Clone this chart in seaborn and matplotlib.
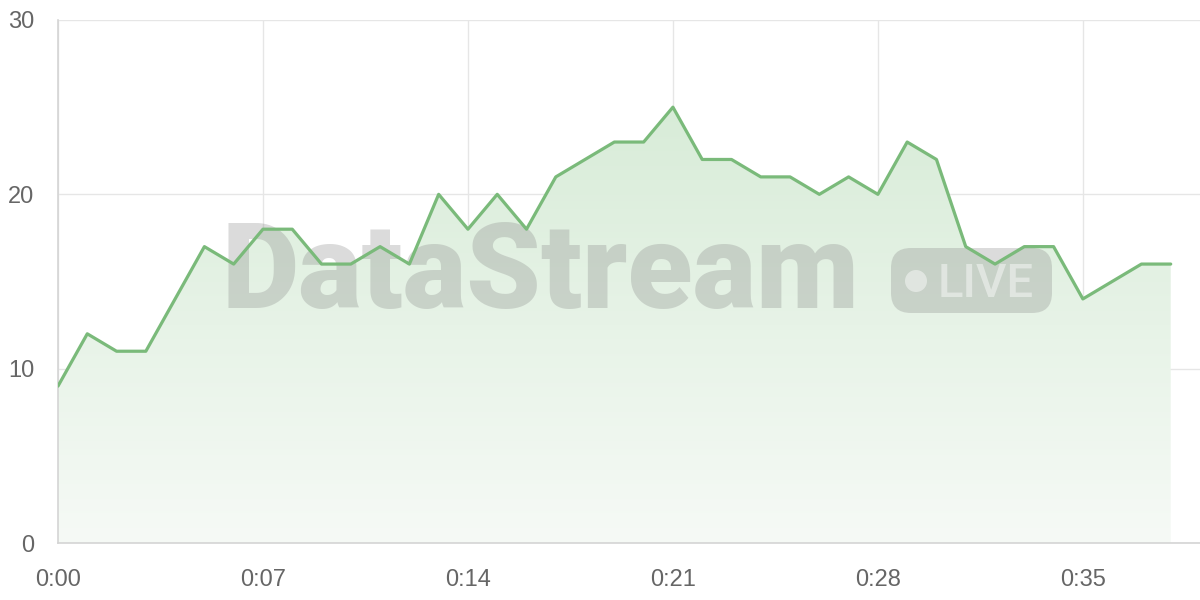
import numpy as np
import pandas as pd
import seaborn as sns
import matplotlib.pyplot as plt
from matplotlib.patches import FancyBboxPatch, Circle
from matplotlib.transforms import IdentityTransform
from matplotlib.colors import LinearSegmentedColormap

# ── Data ──────────────────────────────────────────────────────────────────────
seconds = list(range(39))
values = [9, 12, 11, 11, 14, 17, 16, 18, 18, 16, 16, 17, 16, 20, 18, 20, 18,
          21, 22, 23, 23, 25, 22, 22, 21, 21, 20, 21, 20, 23, 22, 17, 16, 17,
          17, 14, 15, 16, 16]
tick_pos = [0, 7, 14, 21, 28, 35]
tick_labels = ["0:00", "0:07", "0:14", "0:21", "0:28", "0:35"]
y_ticks = [0, 10, 20, 30]

df = pd.DataFrame({"t": seconds, "v": values})

# ── Style ─────────────────────────────────────────────────────────────────────
sns.set_style("white")
plt.rcParams['font.family'] = ['Liberation Sans', 'DejaVu Sans']

line_color = "#7aba7a"
grid_color = "#e6e6e6"
text_color = "#666666"
wm_color = "#888888"

fig = plt.figure(figsize=(12, 6), dpi=100)
ax = fig.add_axes([58 / 1200, 57 / 600, 1 - 58 / 1200, 523 / 600])

# gradient fill under the line
poly = ax.fill_between(df["t"], df["v"], 0, color="none", lw=0)
grad = np.linspace(0, 1, 256).reshape(-1, 1)
cmap = LinearSegmentedColormap.from_list("g", ["#f6faf6", "#d8ecd8"])
img = ax.imshow(grad, cmap=cmap, aspect="auto", origin="lower",
                extent=[0, 38, 0, 25], zorder=1)
img.set_clip_path(poly.get_paths()[0], transform=ax.transData)

# watermark (pixel coordinates, origin bottom-left)
px = IdentityTransform()
ax.text(540, 600 - 308, "DataStream", transform=px, fontsize=86,
        fontweight="black", color=wm_color, alpha=0.3, ha="center",
        va="baseline", zorder=2, family=["Roboto", "DejaVu Sans"],
        clip_on=False)
badge = FancyBboxPatch((891, 600 - 313), 161, 65,
                       boxstyle="round,pad=0,rounding_size=20",
                       transform=px, facecolor=wm_color, alpha=0.3,
                       edgecolor="none", zorder=2)
ax.add_artist(badge)
dot = Circle((916, 600 - 281), 11, transform=px, facecolor="white",
             alpha=0.45, edgecolor="none", zorder=3)
ax.add_artist(dot)
ax.text(986, 600 - 297, "LIVE", transform=px, fontsize=34,
        fontweight="medium", color="white", alpha=0.45, ha="center",
        va="baseline", zorder=3, family=["Roboto", "DejaVu Sans"])

sns.lineplot(data=df, x="t", y="v", ax=ax, color=line_color, linewidth=2.3,
             zorder=4)

# ── Axes ──────────────────────────────────────────────────────────────────────
ax.set_xlim(0, 39)
ax.set_ylim(0, 30)
ax.set_xticks(tick_pos)
ax.set_xticklabels(tick_labels)
ax.set_yticks(y_ticks)
ax.set_xlabel("")
ax.set_ylabel("")
ax.grid(True, color=grid_color, linewidth=1)
ax.set_axisbelow(True)
ax.tick_params(axis="both", length=12, width=1, color=grid_color,
               labelsize=17, labelcolor=text_color, pad=5)
ax.tick_params(axis="x", pad=7)
for side in ["top", "right"]:
    ax.spines[side].set_visible(False)
for side in ["left", "bottom"]:
    ax.spines[side].set_color("#d4d4d4")
    ax.spines[side].set_linewidth(1.2)

fig.savefig("out.png", dpi=100)
